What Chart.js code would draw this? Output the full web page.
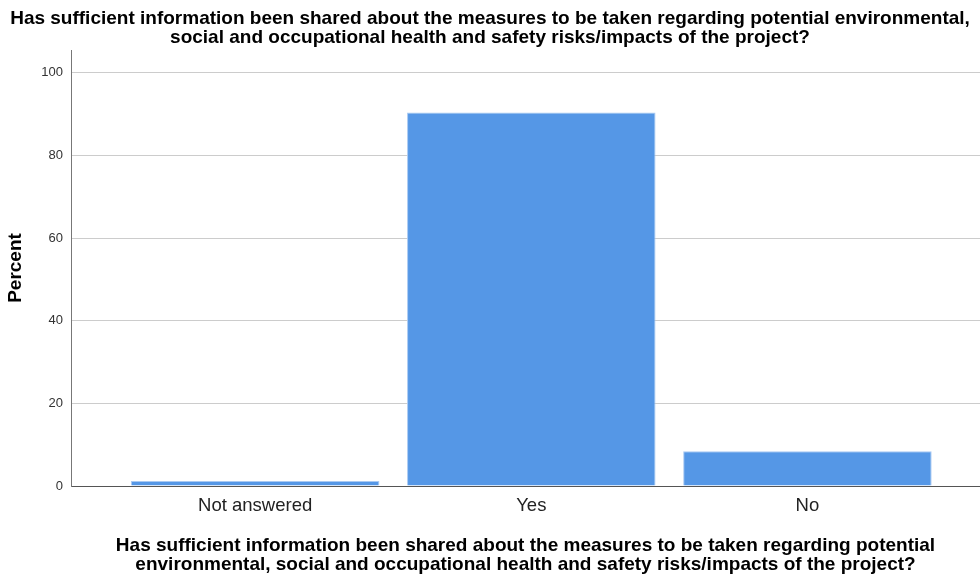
<!DOCTYPE html>
<html>
<head>
<meta charset="utf-8">
<script src="https://cdn.jsdelivr.net/npm/chart.js@4/dist/chart.umd.min.js"></script>
<style>
  html, body { margin: 0; padding: 0; background: #fff; }
  #wrap { width: 980px; height: 576px; }
</style>
</head>
<body>
<div id="wrap"><canvas id="chart" width="980" height="576"></canvas></div>
<script>
const categories = ["Not answered", "Yes", "No"];
const percents = [1.2, 90.4, 8.4];
const yTicks = [0, 20, 40, 60, 80, 100];
const titleLines = [
  "Has sufficient information been shared about the measures to be taken regarding potential environmental,",
  "social and occupational health and safety risks/impacts of the project?"
];
const xTitleLines = [
  "Has sufficient information been shared about the measures to be taken regarding potential",
  "environmental, social and occupational health and safety risks/impacts of the project?"
];

const FONT = "'Liberation Sans', Arial, sans-serif";

new Chart(document.getElementById("chart"), {
  type: "bar",
  data: {
    datasets: [{
      label: "Percent",
      data: percents.map((v, i) => ({ x: i, y: v })),
      backgroundColor: "#5597e6",
      borderColor: "#a9c9f2",
      borderWidth: 1,
      borderSkipped: "bottom",
      categoryPercentage: 1,
      barPercentage: 0.9
    }]
  },
  options: {
    responsive: false,
    animation: false,
    layout: { padding: 0 },
    plugins: {
      legend: { display: false },
      tooltip: { enabled: false },
      title: {
        display: true,
        text: titleLines,
        color: "#000",
        font: { family: FONT, size: 19, weight: "bold", lineHeight: 1.0 },
        padding: { top: 9, bottom: 3 }
      }
    },
    scales: {
      x: {
        type: "linear",
        offset: false,
        min: -0.667,
        max: 2.625,
        afterBuildTicks: s => { s.ticks = categories.map((c, i) => ({ value: i })); },
        afterFit: s => { s.height = 90; },
        ticks: {
          callback: v => categories[v],
          color: "#222",
          font: { family: FONT, size: 18.5 },
          padding: 9,
          maxRotation: 0
        },
        grid: { display: false, drawTicks: false, tickLength: 0 },
        border: { color: "#555", width: 1 },
        title: {
          display: true,
          text: xTitleLines,
          color: "#000",
          font: { family: FONT, size: 19, weight: "bold", lineHeight: 1.0 },
          padding: { top: 0, bottom: 2 }
        }
      },
      y: {
        min: 0,
        max: 105.5,
        afterBuildTicks: s => { s.ticks = yTicks.map(v => ({ value: v })); },
        afterFit: s => { s.width = 71; },
        ticks: {
          color: "#333",
          font: { family: FONT, size: 13 },
          padding: 8
        },
        grid: { color: "#cccccc", drawTicks: false },
        border: { color: "#777", width: 1 },
        title: {
          display: true,
          text: "Percent",
          color: "#000",
          font: { family: FONT, size: 19, weight: "bold" },
          padding: { top: 4, bottom: 0 }
        }
      }
    }
  }
});
</script>
</body>
</html>
